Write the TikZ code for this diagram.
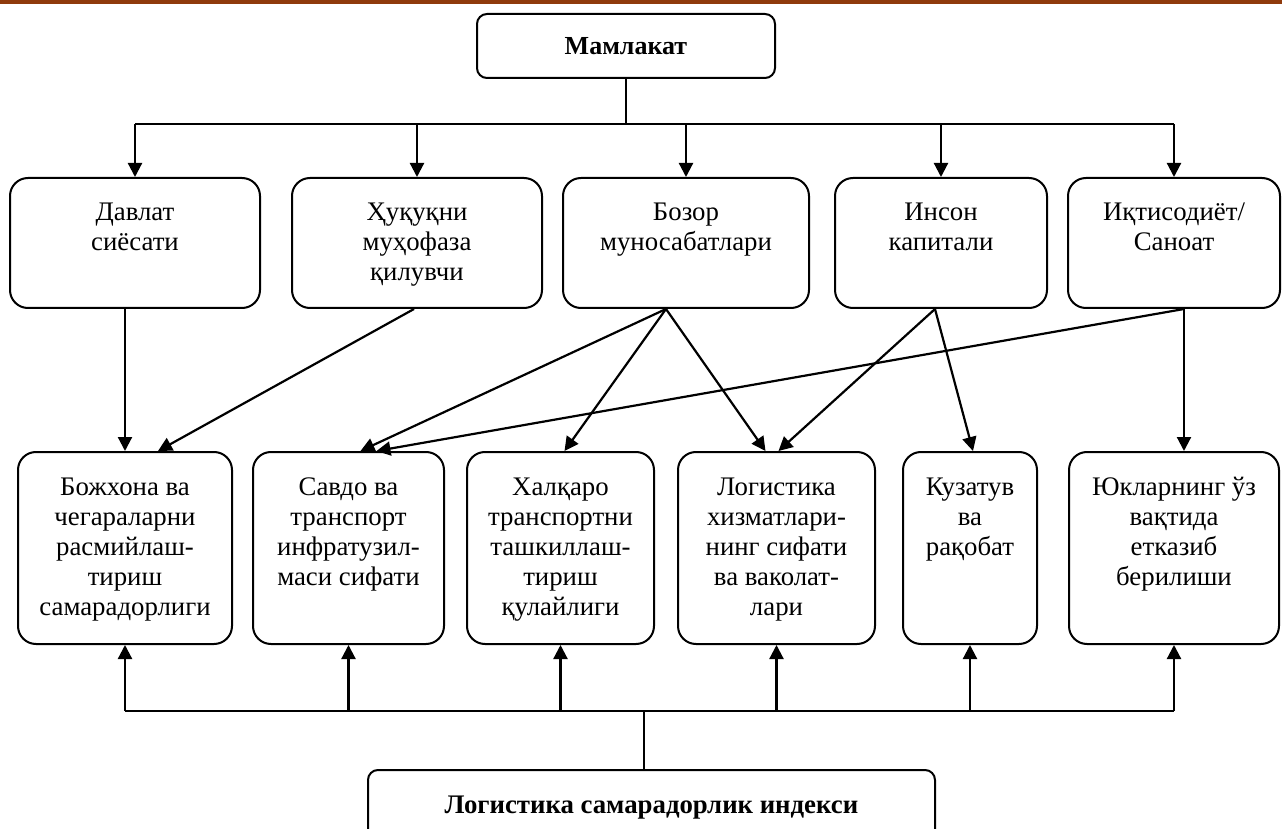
\documentclass[tikz,border=0pt]{standalone}
\usepackage{fontspec}
\setmainfont{Liberation Serif}
\usetikzlibrary{arrows.meta,calc}
\definecolor{topline}{RGB}{143,58,12}
% текст ячейки, выровненный по верху
\newcommand{\cellbox}[3]{\parbox[c][#2][t]{#1}{\centering\fontsize{13.4}{15}\selectfont\vspace*{11pt}\strut#3}}
\begin{document}
\begin{tikzpicture}[x=0.5pt,y=-0.5pt,
    cell/.style={draw,line width=1pt,rounded corners=9pt,inner sep=0pt},
    head/.style={draw,line width=1pt,rounded corners=5pt,inner sep=0pt,font=\bfseries\fontsize{13}{15}\selectfont},
    link/.style={line width=1.1pt,-{Triangle[length=7pt,width=7pt]}}]
\useasboundingbox (0,0) rectangle (1282,829);
\fill[topline] (0,0) rectangle (1282,4);

% Верхний уровень
\node[head,minimum width=149pt,minimum height=32pt] (mam) at (626,46) {Мамлакат};

% Факторы
\node[cell] (t1) at (135,243) {\cellbox{125pt}{65pt}{Давлат\\сиёсати}};
\node[cell] (t2) at (417,243) {\cellbox{125pt}{65pt}{Ҳуқуқни\\муҳофаза\\қилувчи}};
\node[cell] (t3) at (686,243) {\cellbox{123pt}{65pt}{Бозор\\муносабатлари}};
\node[cell] (t4) at (941,243) {\cellbox{106pt}{65pt}{Инсон\\капитали}};
\node[cell] (t5) at (1174,243) {\cellbox{106pt}{65pt}{Иқтисодиёт/\\Саноат}};

% Показатели
\node[cell] (b1) at (125,548) {\cellbox{107pt}{96pt}{Божхона ва\\чегараларни\\расмийлаш-\\тириш\\самарадорлиги}};
\node[cell] (b2) at (348.5,548) {\cellbox{95.5pt}{96pt}{Савдо ва\\транспорт\\инфратузил-\\маси сифати}};
\node[cell] (b3) at (560.5,548) {\cellbox{93.5pt}{96pt}{Халқаро\\транспортни\\ташкиллаш-\\тириш\\қулайлиги}};
\node[cell] (b4) at (776.5,548) {\cellbox{98.5pt}{96pt}{Логистика\\хизматлари-\\нинг сифати\\ва ваколат-\\лари}};
\node[cell] (b5) at (970,548) {\cellbox{67pt}{96pt}{Кузатув\\ва\\рақобат}};
\node[cell] (b6) at (1174,548) {\cellbox{105pt}{96pt}{Юкларнинг ўз\\вақтида\\етказиб\\берилиши}};

% Индекс
\node[cell,rounded corners=5pt] (idx) at (651.5,810) {\cellbox{283.5pt}{40pt}{\bfseries Логистика самарадорлик индекси}};

% Верхняя шина
\coordinate (topbus) at (626,124);
\draw[line width=1pt] (mam.south) -- (mam.south |- topbus);
\draw[line width=1pt] (t1.north |- topbus) -- (t5.north |- topbus);
\foreach \n in {t1,t2,t3,t4,t5}
    \draw[link] (\n.north |- topbus) -- (\n.north);

% Связи факторов с показателями
\foreach \a/\da/\b/\db in {t1/-10/b1/0, t2/-3/b1/33, t3/-20/b2/12, t5/10/b2/28, t3/-20/b3/4,
    t3/-20/b4/-11, t4/-6/b4/2, t4/-6/b5/3, t5/10/b6/10}
    \draw[link] ($(\a.south)+(\da,0)$) -- ($(\b.north)+(\db,0)$);

% Нижняя шина
\coordinate (botbus) at (644,711);
\draw[line width=1pt] (botbus |- idx.north) -- (botbus);
\draw[line width=1pt] (b1.south |- botbus) -- (b6.south |- botbus);
\foreach \n in {b1,b2,b3,b4,b5,b6}
    \draw[link] (\n.south |- botbus) -- (\n.south);
\end{tikzpicture}
\end{document}
